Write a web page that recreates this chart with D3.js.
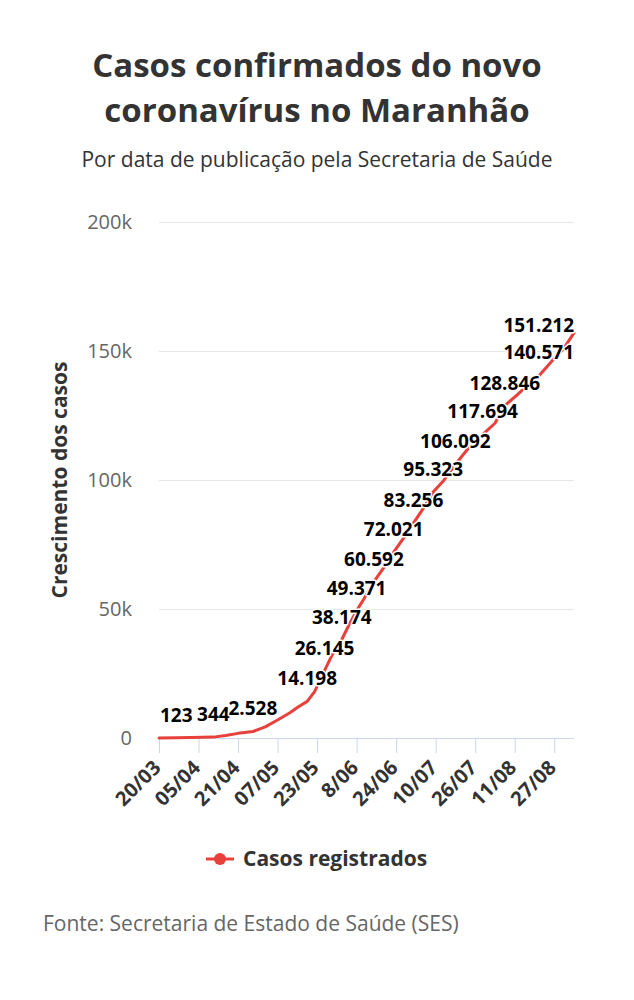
<!DOCTYPE html>
<html>
<head>
<meta charset="utf-8">
<script src="https://cdn.jsdelivr.net/npm/d3@7"></script>
<style>
  body { margin: 0; background: #fff; }
  svg { display: block; font-family: "Open Sans", sans-serif; }
</style>
</head>
<body>
<div id="chart"></div>
<script>
// Dados (casos acumulados por data de publicação)
const datas = [
  "2020-03-20", "2020-03-27", "2020-04-02", "2020-04-11", "2020-04-16", "2020-04-21",
  "2020-04-27", "2020-05-02", "2020-05-07", "2020-05-12", "2020-05-15", "2020-05-19",
  "2020-05-22", "2020-05-26", "2020-05-29", "2020-06-02", "2020-06-05", "2020-06-08",
  "2020-06-11", "2020-06-15", "2020-06-19", "2020-06-23", "2020-06-27", "2020-07-01",
  "2020-07-05", "2020-07-09", "2020-07-13", "2020-07-18", "2020-07-23", "2020-07-27",
  "2020-07-30", "2020-08-03", "2020-08-07", "2020-08-12", "2020-08-17", "2020-08-21",
  "2020-08-26", "2020-08-31", "2020-09-04"
];
const casos = [
  1, 123, 200, 344, 1000, 1800,
  2528, 4300, 7000, 9800, 11800, 14198,
  18000, 26145, 32000, 38174, 44000, 49371,
  54000, 60592, 66000, 72021, 77500, 83256,
  89000, 95323, 99500, 106092, 112000, 116000,
  118500, 122000, 128846, 133000, 137500, 140571,
  146000, 151212, 157000
];

// Pontos com rótulo
const rotuloDatas = [
  "2020-03-27", "2020-04-11", "2020-04-27", "2020-05-19", "2020-05-26", "2020-06-02",
  "2020-06-08", "2020-06-15", "2020-06-23", "2020-07-01", "2020-07-09", "2020-07-18",
  "2020-07-29", "2020-08-07", "2020-08-21", "2020-08-31"
];
const rotuloValores = [
  123, 344, 2528, 14198, 26145, 38174,
  49371, 60592, 72021, 83256, 95323, 106092,
  117694, 128846, 140571, 151212
];

const tickDatas = [
  "2020-03-20", "2020-04-05", "2020-04-21", "2020-05-07", "2020-05-23", "2020-06-08",
  "2020-06-24", "2020-07-10", "2020-07-26", "2020-08-11", "2020-08-27"
];
const tickRotulos = ["20/03", "05/04", "21/04", "07/05", "23/05", "8/06", "24/06", "10/07", "26/07", "11/08", "27/08"];
const yTicks = [0, 50000, 100000, 150000, 200000];
const yRotulos = ["0", "50k", "100k", "150k", "200k"];

const width = 634, height = 1000;
const margin = { left: 159, right: 60, top: 222, bottom: 262 };
const cor = "#e8403a";
const parse = d3.timeParse("%Y-%m-%d");
const fmt = d3.format(",");
const ptBR = v => fmt(v).replace(/,/g, ".");

const svg = d3.select("#chart").append("svg")
  .attr("width", width)
  .attr("height", height);

svg.append("rect").attr("width", width).attr("height", height).attr("fill", "#fff");

const x = d3.scaleTime()
  .domain([parse("2020-03-20"), parse("2020-09-04")])
  .range([margin.left, width - margin.right]);
const y = d3.scaleLinear()
  .domain([0, 200000])
  .range([height - margin.bottom, margin.top]);

// Títulos
svg.append("text")
  .attr("x", 317).attr("y", 77)
  .attr("text-anchor", "middle")
  .attr("font-size", 33).attr("font-weight", 700).attr("fill", "#333")
  .text("Casos confirmados do novo");
svg.append("text")
  .attr("x", 317).attr("y", 122)
  .attr("text-anchor", "middle")
  .attr("font-size", 33).attr("font-weight", 700).attr("fill", "#333")
  .text("coronavírus no Maranhão");
svg.append("text")
  .attr("x", 317).attr("y", 167)
  .attr("text-anchor", "middle")
  .attr("font-size", 21).attr("fill", "#333")
  .text("Por data de publicação pela Secretaria de Saúde");

// Grade e eixo Y
svg.append("g")
  .selectAll("line")
  .data(yTicks.filter(d => d > 0))
  .join("line")
  .attr("x1", margin.left).attr("x2", width - margin.right)
  .attr("y1", d => y(d) + 0.5).attr("y2", d => y(d) + 0.5)
  .attr("stroke", "#e6e6e6");

svg.append("g")
  .selectAll("text")
  .data(yTicks)
  .join("text")
  .attr("x", 132)
  .attr("y", d => y(d))
  .attr("dy", "0.35em")
  .attr("text-anchor", "end")
  .attr("font-size", 20).attr("fill", "#666")
  .text((d, i) => yRotulos[i]);

svg.append("text")
  .attr("transform", `translate(67,${(y(0) + y(200000)) / 2}) rotate(-90)`)
  .attr("text-anchor", "middle")
  .attr("font-size", 21).attr("font-weight", 700).attr("fill", "#333")
  .text("Crescimento dos casos");

// Eixo X
const xAxis = svg.append("g");
xAxis.append("line")
  .attr("x1", margin.left).attr("x2", width - margin.right)
  .attr("y1", y(0) + 0.5).attr("y2", y(0) + 0.5)
  .attr("stroke", "#ccd6eb");
xAxis.selectAll(".tick")
  .data(tickDatas)
  .join("line")
  .attr("x1", d => x(parse(d)) + 0.5).attr("x2", d => x(parse(d)) + 0.5)
  .attr("y1", y(0)).attr("y2", y(0) + 15)
  .attr("stroke", "#ccd6eb");
xAxis.selectAll("text")
  .data(tickDatas)
  .join("text")
  .attr("transform", d => `translate(${x(parse(d)) + 3},${y(0) + 31}) rotate(-45)`)
  .attr("text-anchor", "end")
  .attr("font-size", 20).attr("font-weight", 700).attr("fill", "#333")
  .text((d, i) => tickRotulos[i]);

// Linha
const serie = datas.map((d, i) => ({ data: parse(d), valor: casos[i] }));
const linha = d3.line()
  .x(d => x(d.data))
  .y(d => y(d.valor));

svg.append("path")
  .datum(serie)
  .attr("d", linha)
  .attr("fill", "none")
  .attr("stroke", cor)
  .attr("stroke-width", 3)
  .attr("stroke-linejoin", "round")
  .attr("stroke-linecap", "round");

// Rótulos dos pontos
const rotulos = svg.append("g")
  .attr("font-size", 19).attr("font-weight", 700)
  .attr("text-anchor", "middle");
rotulos.selectAll("text")
  .data(rotuloDatas.map((d, i) => ({ data: parse(d), valor: rotuloValores[i] })))
  .join("text")
  .attr("x", d => x(d.data))
  .attr("y", d => y(d.valor) - 16)
  .attr("fill", "#000")
  .attr("stroke", "#fff")
  .attr("stroke-width", 3)
  .attr("stroke-linejoin", "round")
  .attr("paint-order", "stroke")
  .text(d => ptBR(d.valor))
  .each(function () {
    // mantém o rótulo dentro da área do gráfico
    const w = this.getComputedTextLength();
    const cx = +this.getAttribute("x");
    const maxX = width - margin.right - w / 2;
    if (cx > maxX) this.setAttribute("x", maxX);
  });

// Legenda
const leg = svg.append("g").attr("transform", "translate(206,859)");
leg.append("line")
  .attr("x1", 0).attr("x2", 28)
  .attr("stroke", cor).attr("stroke-width", 3);
leg.append("circle")
  .attr("cx", 14).attr("r", 6)
  .attr("fill", cor);
leg.append("text")
  .attr("x", 37).attr("dy", "0.35em")
  .attr("font-size", 21).attr("font-weight", 700).attr("fill", "#333")
  .text("Casos registrados");

// Fonte
svg.append("text")
  .attr("x", 43).attr("y", 931)
  .attr("font-size", 21).attr("fill", "#666")
  .text("Fonte: Secretaria de Estado de Saúde (SES)");
</script>
</body>
</html>
